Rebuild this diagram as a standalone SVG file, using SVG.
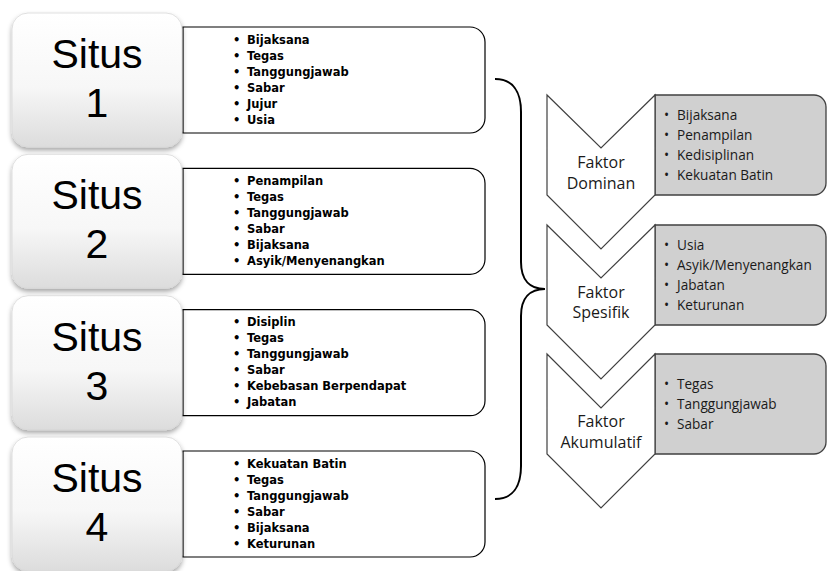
<svg xmlns="http://www.w3.org/2000/svg" width="828" height="571" viewBox="0 0 828 571">
<defs>
  <linearGradient id="sg" x1="0" y1="0" x2="0" y2="1">
    <stop offset="0" stop-color="#ffffff"/>
    <stop offset="0.55" stop-color="#f7f7f7"/>
    <stop offset="1" stop-color="#dcdcdc"/>
  </linearGradient>
  <filter id="sh" x="-10%" y="-10%" width="120%" height="125%">
    <feDropShadow dx="0" dy="3" stdDeviation="2.5" flood-color="#000" flood-opacity="0.35"/>
  </filter>
</defs>
<style>
  .situs{fill:url(#sg);stroke:#d8d8d8;stroke-width:0.8;filter:url(#sh)}
  .st{font-family:"Liberation Sans",Arial,sans-serif;font-size:41px;fill:#000;text-anchor:middle}
  .lst{fill:#fff;stroke:#000;stroke-width:1.2}
  .li{font-family:"DejaVu Sans",sans-serif;font-weight:bold;font-size:11.5px;fill:#000}
  .chev{fill:#fff;stroke:#404040;stroke-width:1.2;stroke-linejoin:miter}
  .gb{fill:#d0d0d0;stroke:#404040;stroke-width:1.3}
  .fk{font-family:"Open Sans","Noto Sans",sans-serif;font-size:16px;fill:#1a1a1a;text-anchor:middle}
  .gi{font-family:"Open Sans","Noto Sans",sans-serif;font-size:13.6px;fill:#1a1a1a}
  .brace{fill:none;stroke:#000;stroke-width:2}
</style>
<rect width="828" height="571" fill="#fff"/>

<g id="situs1">
  <path class="lst" d="M183,27 H470 A15,15 0 0 1 485,42 V118 A15,15 0 0 1 470,133 H183 Z"/>
  <rect class="situs" x="12" y="13" width="170" height="134" rx="16"/>
  <text class="st" x="97" y="68">Situs</text>
  <text class="st" x="97" y="117">1</text>
  <text class="li"><tspan x="233" y="43.5">•</tspan><tspan x="247" y="43.5">Bijaksana</tspan><tspan x="233" y="59.5">•</tspan><tspan x="247" y="59.5">Tegas</tspan><tspan x="233" y="75.5">•</tspan><tspan x="247" y="75.5">Tanggungjawab</tspan><tspan x="233" y="91.5">•</tspan><tspan x="247" y="91.5">Sabar</tspan><tspan x="233" y="107.5">•</tspan><tspan x="247" y="107.5">Jujur</tspan><tspan x="233" y="123.5">•</tspan><tspan x="247" y="123.5">Usia</tspan></text>
</g>

<g id="situs2" transform="translate(0,141.3)">
  <path class="lst" d="M183,27 H470 A15,15 0 0 1 485,42 V118 A15,15 0 0 1 470,133 H183 Z"/>
  <rect class="situs" x="12" y="13" width="170" height="134" rx="16"/>
  <text class="st" x="97" y="68">Situs</text>
  <text class="st" x="97" y="117">2</text>
  <text class="li"><tspan x="233" y="43.5">•</tspan><tspan x="247" y="43.5">Penampilan</tspan><tspan x="233" y="59.5">•</tspan><tspan x="247" y="59.5">Tegas</tspan><tspan x="233" y="75.5">•</tspan><tspan x="247" y="75.5">Tanggungjawab</tspan><tspan x="233" y="91.5">•</tspan><tspan x="247" y="91.5">Sabar</tspan><tspan x="233" y="107.5">•</tspan><tspan x="247" y="107.5">Bijaksana</tspan><tspan x="233" y="123.5">•</tspan><tspan x="247" y="123.5">Asyik/Menyenangkan</tspan></text>
</g>

<g id="situs3" transform="translate(0,282.7)">
  <path class="lst" d="M183,27 H470 A15,15 0 0 1 485,42 V118 A15,15 0 0 1 470,133 H183 Z"/>
  <rect class="situs" x="12" y="13" width="170" height="134" rx="16"/>
  <text class="st" x="97" y="68">Situs</text>
  <text class="st" x="97" y="117">3</text>
  <text class="li"><tspan x="233" y="43.5">•</tspan><tspan x="247" y="43.5">Disiplin</tspan><tspan x="233" y="59.5">•</tspan><tspan x="247" y="59.5">Tegas</tspan><tspan x="233" y="75.5">•</tspan><tspan x="247" y="75.5">Tanggungjawab</tspan><tspan x="233" y="91.5">•</tspan><tspan x="247" y="91.5">Sabar</tspan><tspan x="233" y="107.5">•</tspan><tspan x="247" y="107.5">Kebebasan Berpendapat</tspan><tspan x="233" y="123.5">•</tspan><tspan x="247" y="123.5">Jabatan</tspan></text>
</g>

<g id="situs4" transform="translate(0,424)">
  <path class="lst" d="M183,27 H470 A15,15 0 0 1 485,42 V118 A15,15 0 0 1 470,133 H183 Z"/>
  <rect class="situs" x="12" y="13" width="170" height="134" rx="16"/>
  <text class="st" x="97" y="68">Situs</text>
  <text class="st" x="97" y="117">4</text>
  <text class="li"><tspan x="233" y="43.5">•</tspan><tspan x="247" y="43.5">Kekuatan Batin</tspan><tspan x="233" y="59.5">•</tspan><tspan x="247" y="59.5">Tegas</tspan><tspan x="233" y="75.5">•</tspan><tspan x="247" y="75.5">Tanggungjawab</tspan><tspan x="233" y="91.5">•</tspan><tspan x="247" y="91.5">Sabar</tspan><tspan x="233" y="107.5">•</tspan><tspan x="247" y="107.5">Bijaksana</tspan><tspan x="233" y="123.5">•</tspan><tspan x="247" y="123.5">Keturunan</tspan></text>
</g>

<g id="connectors">
  <path class="brace" d="M495,79 C513,79 521,92 521,112 V262 C521,280 530,289 545,289 C530,289 521,298 521,316 V466 C521,486 513,499 495,499"/>
</g>

<g id="faktor-dominan">
  <path class="gb" d="M655,95 H814 A12,12 0 0 1 826,107 V183 A12,12 0 0 1 814,195 H655 Z"/>
  <polygon class="chev" points="547,95 601,148 655,95 655,195 601,249 547,195"/>
  <text class="fk" x="601" y="167.5">Faktor</text>
  <text class="fk" x="601" y="188.5">Dominan</text>
  <text class="gi"><tspan x="664" y="120">•</tspan><tspan x="677" y="120">Bijaksana</tspan><tspan x="664" y="140">•</tspan><tspan x="677" y="140">Penampilan</tspan><tspan x="664" y="160">•</tspan><tspan x="677" y="160">Kedisiplinan</tspan><tspan x="664" y="180">•</tspan><tspan x="677" y="180">Kekuatan Batin</tspan></text>
</g>

<g id="faktor-spesifik">
  <path class="gb" d="M655,225 H814 A12,12 0 0 1 826,237 V313 A12,12 0 0 1 814,325 H655 Z"/>
  <polygon class="chev" points="547,225 601,278 655,225 655,325 601,379 547,325"/>
  <text class="fk" x="601" y="297.5">Faktor</text>
  <text class="fk" x="601" y="318">Spesifik</text>
  <text class="gi"><tspan x="664" y="250">•</tspan><tspan x="677" y="250">Usia</tspan><tspan x="664" y="270">•</tspan><tspan x="677" y="270">Asyik/Menyenangkan</tspan><tspan x="664" y="290">•</tspan><tspan x="677" y="290">Jabatan</tspan><tspan x="664" y="310">•</tspan><tspan x="677" y="310">Keturunan</tspan></text>
</g>

<g id="faktor-akumulatif">
  <path class="gb" d="M655,354 H814 A12,12 0 0 1 826,366 V442 A12,12 0 0 1 814,454 H655 Z"/>
  <polygon class="chev" points="547,354 601,408 655,354 655,454 601,508 547,454"/>
  <text class="fk" x="601" y="427">Faktor</text>
  <text class="fk" x="601" y="447.5">Akumulatif</text>
  <text class="gi"><tspan x="664" y="389">•</tspan><tspan x="677" y="389">Tegas</tspan><tspan x="664" y="409">•</tspan><tspan x="677" y="409">Tanggungjawab</tspan><tspan x="664" y="429">•</tspan><tspan x="677" y="429">Sabar</tspan></text>
</g>
</svg>
